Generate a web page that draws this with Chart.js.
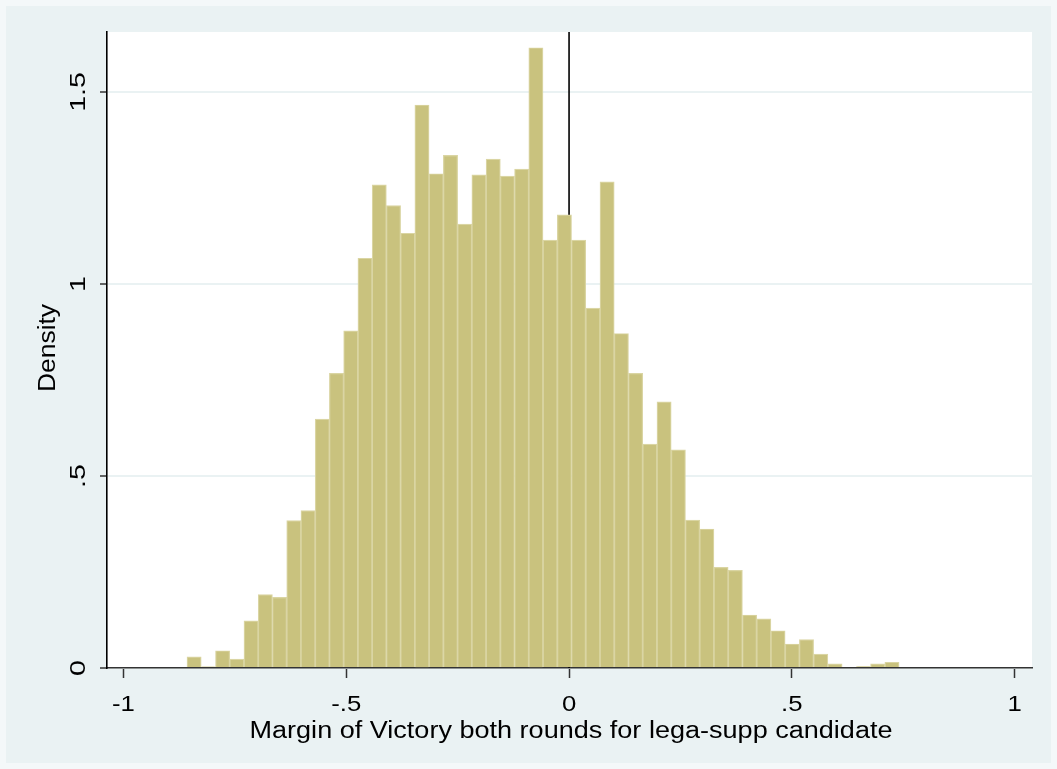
<!DOCTYPE html>
<html>
<head>
<meta charset="utf-8">
<script src="https://cdn.jsdelivr.net/npm/chart.js@4"></script>
<style>
  html, body { margin: 0; padding: 0; background: #eaf2f3; }
  #wrap { width: 1057px; height: 769px; }
</style>
</head>
<body>
<div id="wrap"><canvas id="hist"></canvas></div>
<script>
// bin centres of the histogram (margin of victory)
const binCenters = [
  -0.8415, -0.8095, -0.7775, -0.7456, -0.7136, -0.6817, -0.6497, -0.6177, -0.5858, -0.5538,
  -0.5218, -0.4899, -0.4579, -0.4260, -0.3940, -0.3620, -0.3301, -0.2981, -0.2661, -0.2342,
  -0.2022, -0.1702, -0.1383, -0.1063, -0.0744, -0.0424, -0.0104, 0.0215, 0.0535, 0.0854,
  0.1174, 0.1494, 0.1813, 0.2133, 0.2453, 0.2772, 0.3092, 0.3411, 0.3731, 0.4051,
  0.4371, 0.4690, 0.5010, 0.5329, 0.5649, 0.5969, 0.6288, 0.6608, 0.6927, 0.7247
];
// density of each bin
const densities = [
  0.029, 0.003, 0.045, 0.023, 0.123, 0.191, 0.184, 0.384, 0.410, 0.648,
  0.767, 0.878, 1.067, 1.258, 1.204, 1.132, 1.466, 1.287, 1.335, 1.156,
  1.284, 1.325, 1.281, 1.299, 1.615, 1.114, 1.180, 1.114, 0.937, 1.266,
  0.871, 0.767, 0.583, 0.693, 0.568, 0.385, 0.362, 0.262, 0.254, 0.138,
  0.128, 0.097, 0.0625, 0.074, 0.036, 0.011, 0, 0.0035, 0.011, 0.015
];
const xTicks = [-1, -0.5, 0, 0.5, 1];
const xTickLabels = ["-1", "-.5", "0", ".5", "1"];
const yTicks = [0, 0.5, 1, 1.5];
const yTickLabels = ["0", ".5", "1", "1.5"];
const xLine = 0;
const xTitle = "Margin of Victory both rounds for lega-supp candidate";
const yTitle = "Density";

const FONT = "Liberation Sans, Arial, sans-serif";
const BG = "#eaf2f3";

// Stata's text comes out wider than plain Arial, so stretch it a bit
function wideText( ctx, txt, x, y, size, stretch, rotated ) {
  ctx.save();
  ctx.font = size + "px " + FONT;
  ctx.translate( x, y );
  if( rotated ) ctx.rotate( -Math.PI / 2 );
  ctx.scale( stretch, 1 );
  ctx.fillText( txt, 0, 0 );
  ctx.restore();
}

// background + plot region, vertical xline behind the bars
const stataLook = {
  id: "stataLook",
  beforeDraw( chart ) {
    const ctx = chart.ctx;
    const a = chart.chartArea;
    ctx.save();
    ctx.fillStyle = BG;
    ctx.fillRect( 0, 0, chart.width, chart.height );
    ctx.strokeStyle = "#f4f8f9";
    ctx.lineWidth = 6;
    ctx.strokeRect( 3, 3, chart.width - 6, chart.height - 6 );
    ctx.fillStyle = "#ffffff";
    ctx.fillRect( a.left, a.top, a.right - a.left, a.bottom - a.top );
    ctx.restore();
  },
  beforeDatasetsDraw( chart ) {
    const ctx = chart.ctx;
    const a = chart.chartArea;
    const px = chart.scales.x.getPixelForValue( xLine );
    ctx.save();
    ctx.strokeStyle = "#000000";
    ctx.lineWidth = 1.6;
    ctx.beginPath();
    ctx.moveTo( px, a.top );
    ctx.lineTo( px, a.bottom );
    ctx.stroke();
    ctx.restore();
  },
  afterDraw( chart ) {
    const ctx = chart.ctx;
    const a = chart.chartArea;
    const xs = chart.scales.x, ys = chart.scales.y;
    ctx.save();
    ctx.fillStyle = "#000000";
    ctx.textAlign = "center";
    ctx.textBaseline = "alphabetic";

    // x tick labels
    for( let i = 0; i < xTicks.length; i++ ){
      wideText( ctx, xTickLabels[i], xs.getPixelForValue( xTicks[i] ), 711, 22, 1.17, false );
    }

    // y tick labels, rotated like Stata
    for( let i = 0; i < yTicks.length; i++ ){
      wideText( ctx, yTickLabels[i], 85, ys.getPixelForValue( yTicks[i] ), 22, 1.3, true );
    }

    // axis titles
    ctx.font = "23px " + FONT;
    const tw = ctx.measureText( xTitle ).width;
    wideText( ctx, xTitle, 571, 738, 23, 643 / tw, false );
    wideText( ctx, yTitle, 55, 348, 23, 1.15, true );
    ctx.restore();
  }
};

new Chart( document.getElementById( "hist" ), {
  type: "bar",
  data: {
    datasets: [{
      data: binCenters.map( ( c, i ) => ({ x: c, y: densities[i] }) ),
      backgroundColor: "#c9c27e",
      borderColor: "#dad5a3",
      borderWidth: 1.2,
      barPercentage: 1,
      categoryPercentage: 1,
      grouped: false
    }]
  },
  options: {
    responsive: true,
    maintainAspectRatio: false,
    animation: false,
    layout: { padding: { left: 0, top: 32, right: 25, bottom: 0 } },
    plugins: { legend: { display: false }, tooltip: { enabled: false } },
    scales: {
      x: {
        type: "linear",
        min: -1.037,
        max: 1.039,
        offset: false,
        afterBuildTicks( scale ) { scale.ticks = xTicks.map( v => ({ value: v }) ); },
        afterFit( scale ) { scale.height = 101; },
        grid: { offset: false, drawOnChartArea: false, drawTicks: true, tickLength: 10, tickColor: "#333333", tickWidth: 1.5 },
        border: { display: true, color: "#333333", width: 1.6 },
        ticks: { display: false }
      },
      y: {
        min: 0,
        max: 1.656,
        afterBuildTicks( scale ) { scale.ticks = yTicks.map( v => ({ value: v }) ); },
        afterFit( scale ) { scale.width = 107; },
        grid: { color: BG, lineWidth: 2, drawTicks: true, tickLength: 7, tickColor: "#333333", tickWidth: 1.5 },
        border: { display: true, color: "#000000", width: 1.6 },
        ticks: { display: false }
      }
    }
  },
  plugins: [ stataLook ]
});
</script>
</body>
</html>
